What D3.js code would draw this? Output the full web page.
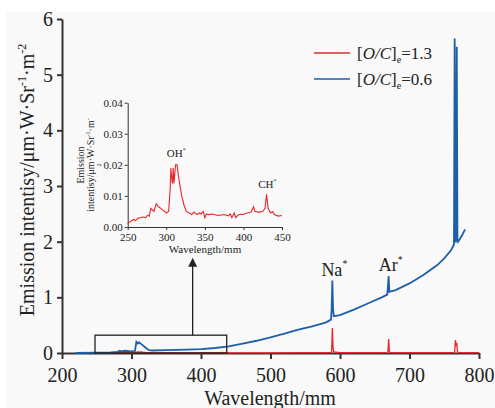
<!DOCTYPE html>
<html>
<head>
<meta charset="utf-8">
<script src="https://cdn.jsdelivr.net/npm/d3@7"></script>
<style>
  body { margin: 0; background: #fff; }
</style>
</head>
<body>
<svg id="chart" width="495" height="408" font-family="Liberation Serif, Times New Roman, DejaVu Serif, serif"></svg>
<script>
// main spectrum, [O/C]e = 0.6 (blue)
var blueWave = [220, 250, 270, 280, 283, 286, 290, 300, 305, 307, 309, 311, 315, 320, 325, 330, 350, 380, 400, 420, 440, 460, 480, 500, 520, 540, 560, 580, 587, 588, 589, 590, 591, 600, 620, 640, 660, 668, 669, 670, 671, 680, 700, 720, 740, 750, 760, 764, 765, 766, 767, 768, 769, 770, 775, 780];
var blueVal = [0.0, 0.005, 0.01, 0.02, 0.04, 0.03, 0.04, 0.03, 0.04, 0.2, 0.17, 0.19, 0.15, 0.1, 0.05, 0.045, 0.05, 0.06, 0.07, 0.09, 0.12, 0.17, 0.22, 0.28, 0.35, 0.42, 0.48, 0.55, 0.6, 0.8, 1.3, 0.8, 0.66, 0.68, 0.78, 0.89, 1.0, 1.05, 1.2, 1.38, 1.1, 1.13, 1.25, 1.4, 1.58, 1.7, 1.85, 1.95, 5.65, 2.0, 2.0, 5.5, 2.05, 2.0, 2.1, 2.22];

// [O/C]e = 1.3 (red), 250-450 nm detail (inset)
var redInsetWave = [250, 252, 255, 258, 260, 263, 266, 270, 273, 276, 278, 280, 282, 284, 285, 287, 289, 290, 293, 295, 298, 300, 303, 305, 306, 307, 308, 309, 310, 311, 312, 314, 316, 318, 320, 323, 326, 330, 333, 336, 340, 343, 345, 348, 350, 352, 355, 360, 365, 370, 375, 380, 383, 385, 388, 390, 393, 395, 400, 405, 410, 413, 415, 420, 425, 428, 430, 432, 435, 438, 440, 445, 450];
var redInsetVal = [0.001, 0.0015, 0.002, 0.0025, 0.002, 0.0028, 0.003, 0.0032, 0.003, 0.0038, 0.0035, 0.006, 0.0055, 0.005, 0.0058, 0.0075, 0.0068, 0.0065, 0.006, 0.0055, 0.005, 0.0045, 0.005, 0.012, 0.019, 0.016, 0.014, 0.019, 0.014, 0.017, 0.02, 0.02, 0.016, 0.013, 0.01, 0.007, 0.005, 0.0045, 0.004, 0.0048, 0.004, 0.0045, 0.0042, 0.005, 0.003, 0.0042, 0.004, 0.0042, 0.0038, 0.0038, 0.004, 0.0036, 0.0042, 0.003, 0.0045, 0.003, 0.0038, 0.004, 0.004, 0.0045, 0.0048, 0.0065, 0.005, 0.0048, 0.005, 0.006, 0.0105, 0.006, 0.0045, 0.005, 0.004, 0.0035, 0.0037];

// red beyond the inset range
var redWave = [460, 500, 550, 587, 588, 589, 590, 591, 600, 650, 668, 669, 670, 671, 672, 700, 750, 764, 765, 766, 767, 768, 769, 770, 800];
var redVal = [0.004, 0.004, 0.005, 0.005, 0.02, 0.45, 0.1, 0.02, 0.006, 0.006, 0.006, 0.03, 0.25, 0.03, 0.006, 0.006, 0.006, 0.006, 0.02, 0.23, 0.15, 0.18, 0.03, 0.006, 0.005];

var xTicks = [200, 300, 400, 500, 600, 700, 800];
var yTicks = [0, 1, 2, 3, 4, 5, 6];
var insetXTicks = [250, 300, 350, 400, 450];
var insetYTicks = [0, 0.01, 0.02, 0.03, 0.04];
var seriesNames = ['1.3', '0.6'];
var seriesColors = ['#e8262b', '#1d5fa8'];

var FONT = 'Liberation Serif, Times New Roman, DejaVu Serif, serif';
var svg = d3.select('#chart');
svg.append('rect').attr('x', 6).attr('y', 12).attr('width', 489).attr('height', 396).attr('fill', '#f9f9f9');

var x = d3.scaleLinear().domain([200, 800]).range([62, 479]);
var y = d3.scaleLinear().domain([0, 6]).range([353, 19]);

function zip(a, b) {
  return a.map(function(d, i) { return [d, b[i]]; });
}
var blueData = zip(blueWave, blueVal);
var redData = zip(redInsetWave, redInsetVal).concat(zip(redWave, redVal));

var line = d3.line().x(function(d) { return x(d[0]); }).y(function(d) { return y(d[1]); });

function styleAxis(a, width, size) {
  a.attr('font-family', FONT);
  a.selectAll('path, line').attr('stroke', '#333').attr('stroke-width', width);
  a.selectAll('text').attr('font-size', size).attr('font-family', FONT).attr('fill', '#222');
}

// axes
var xAxis = svg.append('g')
  .attr('transform', 'translate(0,353)')
  .call(d3.axisBottom(x).tickValues(xTicks).tickSize(6).tickSizeOuter(0).tickPadding(9));
var yAxis = svg.append('g')
  .attr('transform', 'translate(62,0)')
  .call(d3.axisLeft(y).tickValues(yTicks).tickSize(5).tickSizeOuter(0).tickPadding(4).tickFormat(d3.format('d')));
styleAxis(xAxis, 2, 20);
styleAxis(yAxis, 2, 20);

svg.append('path').datum(redData).attr('d', line).attr('fill', 'none').attr('stroke', seriesColors[0]).attr('stroke-width', 1.3);
svg.append('path').datum(blueData).attr('d', line).attr('fill', 'none').attr('stroke', seriesColors[1]).attr('stroke-width', 1.8);

// axis titles
svg.append('text').attr('x', 270).attr('y', 405).attr('text-anchor', 'middle').attr('font-size', 20).attr('fill', '#222').text('Wavelength/mm');
var yt = svg.append('text').attr('transform', 'translate(34,180) rotate(-90)').attr('text-anchor', 'middle').attr('font-size', 20).attr('fill', '#222');
yt.append('tspan').text('Emission intentisy/μm·W·Sr');
yt.append('tspan').attr('font-size', 12).attr('dy', -8).text('-1');
yt.append('tspan').attr('dy', 8).text('·m');
yt.append('tspan').attr('font-size', 12).attr('dy', -8).text('-2');

// peak labels
function starLabel(g, px, py, name, size) {
  var t = g.append('text').attr('x', px).attr('y', py).attr('text-anchor', 'middle').attr('font-size', size).attr('fill', '#222');
  t.append('tspan').text(name);
  t.append('tspan').attr('font-size', size * 0.55).attr('dy', -size * 0.45).text('*');
}
starLabel(svg, x(589) + 2, y(1.32) - 4, 'Na', 18);
starLabel(svg, x(670) + 2, y(1.4) - 4, 'Ar', 18);

// zoom box and arrow
svg.append('rect')
  .attr('x', x(247.5)).attr('y', y(0.32))
  .attr('width', x(437) - x(247.5)).attr('height', y(0) - y(0.32))
  .attr('fill', 'none').attr('stroke', '#222').attr('stroke-width', 1.3);
svg.append('line')
  .attr('x1', x(388)).attr('x2', x(388)).attr('y1', y(0.32)).attr('y2', y(1.58))
  .attr('stroke', '#222').attr('stroke-width', 1.3);
svg.append('path')
  .attr('d', 'M' + x(388) + ',' + y(1.71) + 'l-4.5,9h9z')
  .attr('fill', '#222');

// legend
var legend = svg.append('g');
seriesNames.forEach(function(n, i) {
  var ly = 53 + i * 26;
  legend.append('line').attr('x1', 314).attr('x2', 350).attr('y1', ly).attr('y2', ly)
    .attr('stroke', seriesColors[i]).attr('stroke-width', 1.5);
  var t = legend.append('text').attr('x', 357).attr('y', ly + 6).attr('font-size', 17).attr('fill', '#222');
  t.append('tspan').text('[');
  t.append('tspan').attr('font-style', 'italic').text('O/C');
  t.append('tspan').text(']');
  t.append('tspan').attr('font-size', 10).attr('dy', 4).text('e');
  t.append('tspan').attr('dy', -4).text('=' + n);
});

// inset
var ix = d3.scaleLinear().domain([250, 450]).range([127.7, 282]);
var iy = d3.scaleLinear().domain([0, 0.04]).range([227, 102.7]);
var inset = svg.append('g');
var ixAxis = inset.append('g').attr('transform', 'translate(0,227)')
  .call(d3.axisBottom(ix).tickValues(insetXTicks).tickSize(3).tickSizeOuter(0).tickPadding(3));
var iyAxis = inset.append('g').attr('transform', 'translate(127.7,0)')
  .call(d3.axisLeft(iy).tickValues(insetYTicks).tickSize(3).tickSizeOuter(0).tickPadding(2).tickFormat(d3.format('.2f')));
styleAxis(ixAxis, 1, 11);
styleAxis(iyAxis, 1, 11);
var iline = d3.line().x(function(d) { return ix(d[0]); }).y(function(d) { return iy(d[1]); });
inset.append('path').datum(zip(redInsetWave, redInsetVal)).attr('d', iline)
  .attr('fill', 'none').attr('stroke', seriesColors[0]).attr('stroke-width', 1.1);
inset.append('text').attr('x', 205).attr('y', 253).attr('text-anchor', 'middle').attr('font-size', 11).attr('fill', '#222').text('Wavelength/mm');
var il = inset.append('g').attr('transform', 'translate(0,165) rotate(-90)');
il.append('text').attr('x', 0).attr('y', 84).attr('text-anchor', 'middle').attr('font-size', 10).attr('fill', '#222').text('Emission');
var il2 = il.append('text').attr('x', 0).attr('y', 94).attr('text-anchor', 'middle').attr('font-size', 10).attr('fill', '#222');
il2.append('tspan').text('intentisy/μm·W·Sr');
il2.append('tspan').attr('font-size', 6).attr('dy', -4).text('-1');
il2.append('tspan').attr('dy', 4).text('·m');
il2.append('tspan').attr('font-size', 6).attr('dy', -4).text('-');
il.append('text').attr('x', 0).attr('y', 101).attr('text-anchor', 'middle').attr('font-size', 6).attr('fill', '#222').text('2');
starLabel(inset, ix(313), iy(0.0225), 'OH', 11);
starLabel(inset, ix(431), iy(0.0125), 'CH', 11);
</script>
</body>
</html>
